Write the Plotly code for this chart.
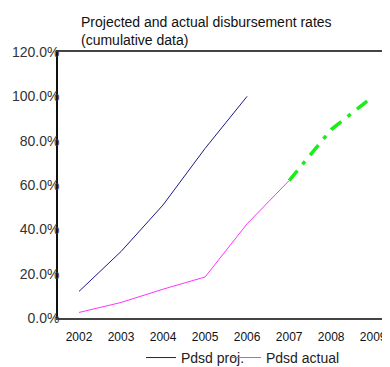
import plotly.graph_objects as go

years = ["2002", "2003", "2004", "2005", "2006", "2007", "2008", "2009"]
proj_years = ["2002", "2003", "2004", "2005", "2006"]
proj_vals = [0.12, 0.30, 0.51, 0.765, 1.00]
actual_years = ["2002", "2003", "2004", "2005", "2006", "2007"]
actual_vals = [0.025, 0.07, 0.13, 0.185, 0.425, 0.62]
forecast_years = ["2007", "2008", "2009"]
forecast_vals = [0.62, 0.85, 1.00]
title_lines = ["Projected and actual disbursement rates", "(cumulative data)"]

FONT = "Liberation Sans, Arial, sans-serif"

fig = go.Figure()
fig.add_trace(go.Scatter(x=proj_years, y=proj_vals, mode="lines", name="Pdsd proj.",
                         legend="legend", line=dict(color="#1a1a8c", width=1)))
fig.add_trace(go.Scatter(x=actual_years, y=actual_vals, mode="lines", name="Pdsd actual",
                         legend="legend2", line=dict(color="#ff33ff", width=1)))
fig.add_trace(go.Scatter(x=forecast_years, y=forecast_vals, mode="lines", showlegend=False,
                         line=dict(color="#18ee18", width=3.5, dash="13px,8px,4px,8px")))

fig.add_annotation(text="<br>".join(title_lines), xref="paper", yref="paper",
                   x=(71 - 50) / 332, y=1.0, xanchor="left", yanchor="bottom",
                   align="left", showarrow=False, yshift=2,
                   font=dict(family=FONT, size=14, color="#111"))

legend_style = dict(orientation="h", xanchor="left", y=-0.09, yanchor="top",
                    bgcolor="rgba(0,0,0,0)", itemwidth=30,
                    font=dict(family=FONT, size=14, color="#222"))

fig.update_layout(
    width=382, height=359,
    margin=dict(l=50, r=0, t=44, b=49, autoexpand=False),
    paper_bgcolor="white", plot_bgcolor="white",
    font=dict(family=FONT, color="#222"),
    xaxis=dict(type="category", categoryorder="array", categoryarray=years,
               range=[-0.5, 7.4], showgrid=False, showline=True, linecolor="#444",
               linewidth=1.5, mirror=True, ticks="", ticklabelstandoff=7,
               tickfont=dict(size=12, color="#111")),
    yaxis=dict(range=[0, 1.2], dtick=0.2, tickformat=".1%", showgrid=False,
               showline=True, linecolor="#111", linewidth=1.5, ticks="", zeroline=False,
               ticklabelstandoff=-6, tickfont=dict(family=FONT, size=14, color="#333")),
    legend=dict(x=(133 - 50) / 332, **legend_style),
    legend2=dict(x=(218 - 50) / 332, **legend_style),
)

fig.write_html("out.html")
